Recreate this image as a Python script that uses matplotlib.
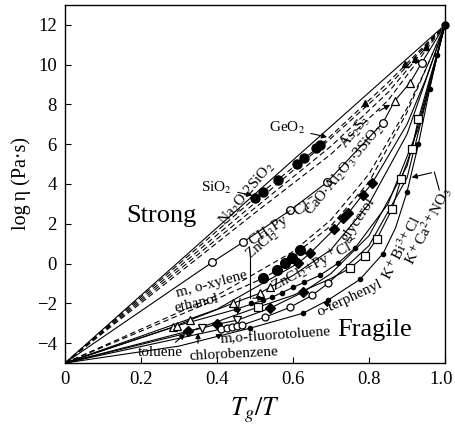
import numpy as np
import matplotlib.pyplot as plt
import matplotlib.transforms as mtransforms

plt.rcParams['font.family'] = ['Liberation Serif', 'DejaVu Serif']
plt.rcParams['mathtext.fontset'] = 'stix'

# curves: (x, y), all from (0,-5) to (1,12)
sio2_x = [0, 1]
sio2_y = [-5, 12]

geo2_x = [0, 0.5, 0.67, 0.85, 1]
geo2_y = [-5, 3.3, 5.9, 9.1, 12]
geo2_pts_x = [0.50, 0.52, 0.56, 0.61, 0.63, 0.66, 0.67]
geo2_pts_y = [3.3, 3.6, 4.2, 5.0, 5.3, 5.8, 5.95]

d3_x = [0, 0.5, 0.7, 0.85, 1]
d3_y = [-5, 3.05, 6.3, 8.9, 12]
d4_x = [0, 0.5, 0.7, 0.85, 1]
d4_y = [-5, 2.8, 5.9, 8.6, 12]
d5_x = [0, 0.5, 0.7, 0.85, 1]
d5_y = [-5, 2.55, 5.5, 8.2, 12]
tri_x = [0.79, 0.895, 0.92, 0.95]
tri_y = [8.05, 10.05, 10.3, 10.9]

na2o_x = [0, 0.387, 0.468, 0.592, 0.689, 0.837, 0.868, 0.908, 0.939, 1]
na2o_y = [-5, 0.06, 1.07, 2.67, 4.08, 7.09, 8.19, 9.09, 10.1, 12]
na2o_o_x = [0.387, 0.468, 0.592, 0.689, 0.837, 0.939]
na2o_o_y = [0.06, 1.07, 2.67, 4.08, 7.09, 10.1]
as2s3_x = [0.868, 0.908]
as2s3_y = [8.19, 9.09]

cao_x = [0, 0.4, 0.6, 0.7, 0.8, 0.9, 0.95, 1]
cao_y = [-5, -1.6, 0.6, 2.2, 4.5, 7.8, 9.8, 12]

gly_x = [0, 0.4, 0.613, 0.645, 0.708, 0.732, 0.745, 0.784, 0.808, 0.9, 0.95, 1]
gly_y = [-5, -2.3, 0.01, 0.52, 1.72, 2.27, 2.52, 3.47, 4.03, 7.0, 9.3, 12]
gly_d_x = [0.613, 0.645, 0.708, 0.732, 0.745, 0.784, 0.808]
gly_d_y = [0.01, 0.52, 1.72, 2.27, 2.52, 3.47, 4.03]

zn_x = [0, 0.35, 0.521, 0.558, 0.579, 0.597, 0.618, 0.7, 0.8, 0.9, 1]
zn_y = [-5, -2.2, -0.74, -0.34, 0.01, 0.26, 0.67, 1.9, 4.1, 7.6, 12]
zn_c_x = [0.521, 0.558, 0.579, 0.597, 0.618]
zn_c_y = [-0.74, -0.34, 0.01, 0.26, 0.67]

eth_x = [0, 0.284, 0.329, 0.442, 0.513, 0.539, 0.6, 0.7, 0.8, 0.9, 1]
eth_y = [-5, -3.2, -2.84, -2.0, -1.49, -1.19, -0.6, 0.7, 3.0, 6.5, 12]
eth_t_x = [0.284, 0.296, 0.329, 0.442, 0.513, 0.539]
eth_t_y = [-3.2, -3.12, -2.84, -2.0, -1.49, -1.19]

znpy_x = [0, 0.3, 0.45, 0.545, 0.6, 0.671, 0.718, 0.763, 0.85, 0.93, 1]
znpy_y = [-5, -3.1, -2.3, -1.69, -1.2, -0.59, 0.01, 0.77, 3.0, 6.8, 12]
znpy_d_x = [0.45, 0.49, 0.52, 0.545, 0.57, 0.6, 0.63, 0.671, 0.718, 0.763]
znpy_d_y = [-2.3, -2.0, -1.85, -1.69, -1.48, -1.2, -0.95, -0.59, 0.01, 0.77]

tol_x = [0, 0.324, 0.36, 0.4, 0.453, 0.54, 0.626, 0.7, 0.8, 0.9, 1]
tol_y = [-5, -3.4, -3.25, -3.05, -2.85, -2.24, -1.44, -0.5, 1.4, 4.9, 12]
tol_d_x = [0.324, 0.4, 0.54, 0.626]
tol_d_y = [-3.4, -3.05, -2.24, -1.44]
xyl_v_x = [0.36, 0.453]
xyl_v_y = [-3.25, -2.85]

flu_x = [0, 0.41, 0.465, 0.526, 0.592, 0.65, 0.692, 0.8, 0.9, 1]
flu_y = [-5, -3.3, -3.1, -2.7, -2.2, -1.6, -1.0, 0.9, 4.3, 12]
flu_o_x = [0.41, 0.425, 0.44, 0.452, 0.465, 0.526, 0.592, 0.65, 0.692]
flu_o_y = [-3.3, -3.25, -3.2, -3.15, -3.1, -2.7, -2.2, -1.6, -1.0]

kbi_x = [0, 0.3, 0.508, 0.6, 0.7, 0.75, 0.79, 0.821, 0.861, 0.884, 0.913, 0.93, 0.96, 0.98, 1]
kbi_y = [-5, -3.6, -2.19, -1.6, -0.75, -0.24, 0.4, 1.25, 2.75, 4.23, 5.78, 7.27, 9.3, 10.6, 12]
kbi_s_x = [0.508, 0.75, 0.79, 0.821, 0.861, 0.884, 0.913, 0.93]
kbi_s_y = [-2.19, -0.24, 0.4, 1.25, 2.75, 4.23, 5.78, 7.27]

ter_x = [0, 0.3, 0.487, 0.626, 0.692, 0.776, 0.837, 0.87, 0.9, 0.93, 0.96, 0.98, 1]
ter_y = [-5, -4.15, -3.25, -2.5, -1.84, -0.8, 0.5, 1.8, 3.6, 6.0, 8.8, 10.5, 12]
ter_d_x = [0.487, 0.626, 0.692, 0.776, 0.837, 0.9, 0.93, 0.96, 0.98]
ter_d_y = [-3.25, -2.5, -1.84, -0.8, 0.5, 3.6, 6.0, 8.8, 10.5]

fig = plt.figure(figsize=(4.55, 4.33), dpi=100)
ax = fig.add_axes([65/455, 70/433, 380/455, 358/433])

lw = 0.8
k = 'black'
dash = (0, (5, 3))
ax.plot(sio2_x, sio2_y, color=k, lw=lw)
ax.plot(geo2_x, geo2_y, color=k, lw=lw, ls=dash)
ax.plot(d3_x, d3_y, color=k, lw=lw, ls=dash)
ax.plot(d4_x, d4_y, color=k, lw=lw, ls=dash)
ax.plot(d5_x, d5_y, color=k, lw=lw, ls=dash)
ax.plot(na2o_x, na2o_y, color=k, lw=lw)
ax.plot(cao_x, cao_y, color=k, lw=lw, ls=dash)
ax.plot(gly_x, gly_y, color=k, lw=lw)
ax.plot(zn_x, zn_y, color=k, lw=lw, ls=dash)
ax.plot(eth_x, eth_y, color=k, lw=lw)
ax.plot(znpy_x, znpy_y, color=k, lw=lw)
ax.plot(tol_x, tol_y, color=k, lw=lw)
ax.plot(flu_x, flu_y, color=k, lw=lw)
ax.plot(kbi_x, kbi_y, color=k, lw=lw)
ax.plot(ter_x, ter_y, color=k, lw=lw)

# markers
ax.plot(geo2_pts_x, geo2_pts_y, 'o', color=k, ms=6.5)
ax.plot(tri_x, tri_y, '^', color=k, ms=5)
ax.plot(na2o_o_x, na2o_o_y, 'o', mfc='white', mec=k, ms=5.5, mew=0.9)
ax.plot(as2s3_x, as2s3_y, '^', mfc='white', mec=k, ms=5.5, mew=0.9)
ax.plot(gly_d_x, gly_d_y, 'D', color=k, ms=5)
ax.plot(zn_c_x, zn_c_y, 'o', color=k, ms=7)
ax.plot(eth_t_x, eth_t_y, '^', mfc='white', mec=k, ms=5.5, mew=0.9)
ax.plot(znpy_d_x, znpy_d_y, 'o', color=k, ms=3)
ax.plot(tol_d_x, tol_d_y, 'D', color=k, ms=5)
ax.plot(xyl_v_x, xyl_v_y, 'v', mfc='white', mec=k, ms=5.5, mew=0.9)
ax.plot(flu_o_x, flu_o_y, 'o', mfc='white', mec=k, ms=5, mew=0.9)
ax.plot(kbi_s_x, kbi_s_y, 's', mfc='white', mec=k, ms=5.5, mew=0.9)
ax.plot(ter_d_x, ter_d_y, 'o', color=k, ms=3)
ax.plot([1], [12], 'o', color=k, ms=5, clip_on=False)

ax.set_xlim(0, 1)
ax.set_ylim(-5, 13)
ax.set_xticks([0, 0.2, 0.4, 0.6, 0.8, 1.0])
ax.set_xticklabels(['0', '0.2', '0.4', '0.6', '0.8', '1.0'])
ax.set_yticks([-4, -2, 0, 2, 4, 6, 8, 10, 12])
ax.set_yticklabels(['\u22124', '\u22122', '0', '2', '4', '6', '8', '10', '12'])
ax.tick_params(direction='in', length=4, width=0.8, labelsize=13.5, pad=6)
for s in ax.spines.values():
    s.set_linewidth(1.0)
# keep the last x label inside the figure
last = ax.get_xticklabels()[-1]
last.set_transform(last.get_transform() +
                   mtransforms.ScaledTranslation(-4/100, 0, fig.dpi_scale_trans))

ax.set_xlabel('$T_g/T$', fontsize=18.5, labelpad=5)
ax.set_ylabel('log\u2009\u03b7 (Pa\u00b7s)', fontsize=14.5, labelpad=4)

fs = 11
ap = dict(arrowstyle='-|>', color=k, lw=0.8, mutation_scale=8)
ax.annotate('SiO$_2$', xy=(0.5, 3.4), xytext=(0.44, 3.8), fontsize=fs,
            ha='right', va='center', arrowprops=ap)
ax.annotate('GeO$_2$', xy=(0.697, 6.33), xytext=(0.585, 6.8), fontsize=fs,
            ha='center', va='center', arrowprops=ap)
ax.text(0.765, 6.6, 'As$_2$S$_3$', fontsize=fs, rotation=50, ha='center', va='center')
ax.annotate('', xy=(0.862, 8.05), xytext=(0.82, 7.6), arrowprops=ap)
ax.text(0.48, 3.5, 'Na$_2$O$\\cdot$2SiO$_2$', fontsize=fs, rotation=50,
        ha='center', va='center')
ax.text(0.735, 4.7, 'CaO$\\cdot$Al$_2$O$_3$$\\cdot$3SiO$_2$', fontsize=fs, rotation=50,
        ha='center', va='center')
ax.text(0.77, 2.2, 'glycerol', fontsize=fs, rotation=56, ha='center', va='center')
ax.text(0.575, 2.1, 'CH$_3$Py$^+$Cl$^-$', fontsize=fs, rotation=33, ha='center', va='center')
ax.text(0.52, 0.95, 'ZnCl$_2$', fontsize=fs, rotation=40, ha='center', va='center')
ax.text(0.66, -0.05, 'ZnCl$_2$+Py$^+$Cl$^-$', fontsize=fs, rotation=28,
        ha='center', va='center')
ax.text(0.885, 0.8, 'K$^+$Bi$^{3+}$Cl', fontsize=fs, rotation=63, ha='center', va='center')
ax.text(0.955, 1.9, 'K$^+$Ca$^{2+}$NO$_3$', fontsize=fs, rotation=63,
        ha='center', va='center')
ax.text(0.75, -1.75, 'o-terphenyl', fontsize=fs, rotation=25, ha='center', va='center')
ax.annotate('', xy=(0.672, -1.9), xytext=(0.705, -2.15), arrowprops=ap)
ax.text(0.385, -1.05, 'm, o-xylene', fontsize=fs, rotation=15, ha='center', va='center')
ax.text(0.345, -2.0, 'ethanol', fontsize=fs, rotation=13, ha='center', va='center')
ax.annotate('', xy=(0.453, -2.7), xytext=(0.462, -1.6), arrowprops=ap)
ax.text(0.25, -4.45, 'toluene', fontsize=fs, ha='center', va='center')
ax.annotate('', xy=(0.322, -3.45), xytext=(0.285, -4.05), arrowprops=ap)
ax.text(0.445, -4.55, 'chlorobenzene', fontsize=fs, rotation=3, ha='center', va='center')
ax.annotate('', xy=(0.35, -3.35), xytext=(0.35, -4.15), arrowprops=ap)
ax.text(0.555, -3.62, 'm,o-fluorotoluene', fontsize=fs, rotation=4, ha='center', va='center')
ax.annotate('', xy=(0.42, -3.45), xytext=(0.395, -3.75), arrowprops=ap)

# bracket arrows
ax.plot([0.487, 0.487], [0.3, -1.74], color=k, lw=0.8)
ax.annotate('', xy=(0.53, -1.74), xytext=(0.487, -1.74), arrowprops=ap)
ax.plot([0.972, 0.985], [4.6, 3.7], color=k, lw=0.8)
ax.annotate('', xy=(0.905, 4.3), xytext=(0.972, 4.6), arrowprops=ap)

ax.text(0.253, 2.4, 'Strong', fontsize=19, ha='center', va='center')
ax.text(0.816, -3.35, 'Fragile', fontsize=19, ha='center', va='center')

fig.savefig('out.png', dpi=100)
